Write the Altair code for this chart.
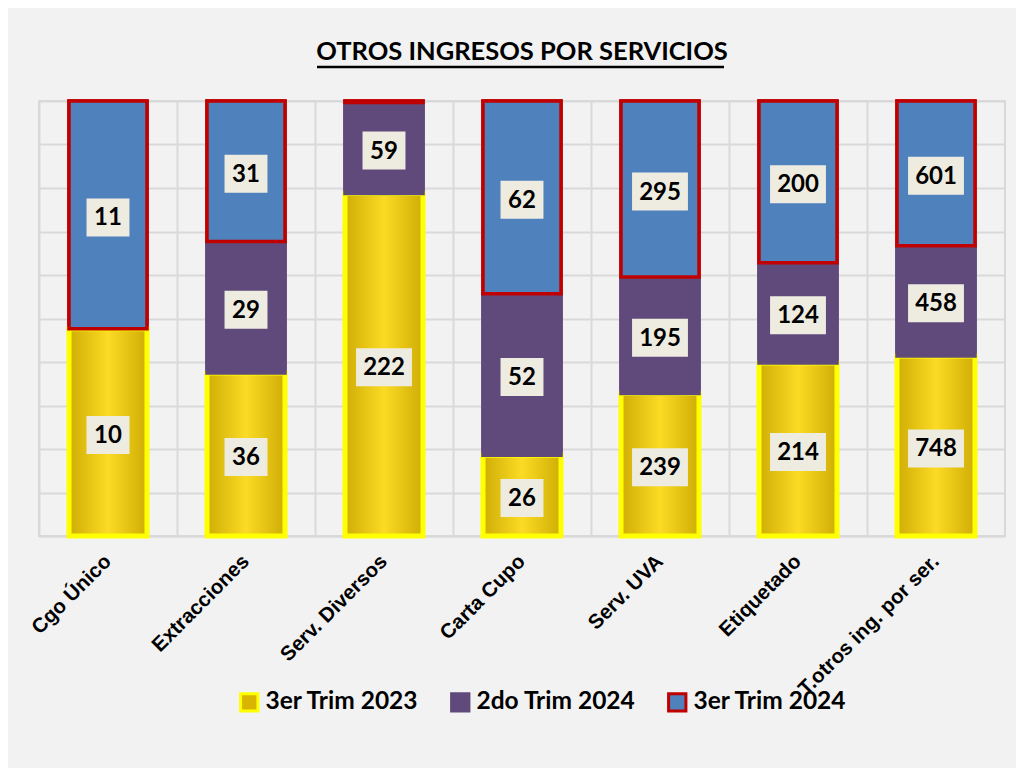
import altair as alt
import pandas as pd

categories = ["Cgo  Único", "Extracciones", "Serv. Diversos", "Carta Cupo",
              "Serv. UVA", "Etiquetado", "T.otros ing. por ser."]
series = ["3er Trim 2023", "2do Trim 2024", "3er Trim 2024"]
trim3_2023 = [10, 36, 222, 26, 239, 214, 748]
trim2_2024 = [0, 29, 59, 52, 195, 124, 458]
trim3_2024 = [11, 31, 1, 62, 295, 200, 601]

rows = []
for i, c in enumerate(categories):
    for j, (s, vals) in enumerate(zip(series, [trim3_2023, trim2_2024, trim3_2024])):
        rows.append({"cat": c, "series": s, "ord": j, "value": vals[i]})
df = pd.DataFrame(rows)

fills = ["#d9b500", "#604a7b", "#4f81bd"]
strokes = ["#ffff00", "#604a7b", "#c00000"]

base = alt.Chart(df).transform_filter("datum.value > 0").transform_stack(
    stack="value", groupby=["cat"], as_=["y0", "y1"], offset="normalize",
    sort=[alt.SortField("ord", order="ascending")]
).transform_calculate(
    mid="(datum.y0 + datum.y1) / 2",
    nd="'' + length('' + datum.value)"
)

xscale = alt.Scale(paddingInner=0, paddingOuter=0)
xaxis = alt.Axis(grid=True, bandPosition=0, gridColor="#d9d9d9", gridWidth=2,
                 ticks=False, domainColor="#d9d9d9", domainWidth=2,
                 labelAngle=-45, labelAlign="right", labelBaseline="middle",
                 labelFont="Liberation Sans", labelFontWeight="bold",
                 labelFontSize=20.5, labelColor="black", labelPadding=22,
                 labelLimit=400, title=None)
X = alt.X("cat:N", sort=categories, title=None, scale=xscale, axis=xaxis)
yscale = alt.Scale(domain=[0, 1], nice=False)
yaxis = alt.Axis(values=[i / 10 for i in range(11)], labels=False, ticks=False,
                 domain=False, grid=True, gridColor="#d9d9d9", gridWidth=2, title=None)

fill_enc = alt.Fill("series:N", scale=alt.Scale(domain=series, range=fills), title=None)
stroke_enc = alt.Stroke("series:N", scale=alt.Scale(domain=series, range=strokes), title=None)

bars = base.mark_bar(size=78, strokeWidth=3.5).encode(
    x=X, y=alt.Y("y0:Q", scale=yscale, axis=yaxis, title=None), y2="y1:Q",
    fill=fill_enc, stroke=stroke_enc,
)

gold = base.transform_filter("datum.ord == 0").mark_bar(
    size=78, strokeWidth=5, stroke="#ffff00",
    fill=alt.Gradient(gradient="linear", x1=0, x2=1, y1=0, y2=0,
                      stops=[alt.GradientStop(color="#cfad05", offset=0),
                             alt.GradientStop(color="#fbdb24", offset=0.5),
                             alt.GradientStop(color="#cfad05", offset=1)])
).encode(x=X, y=alt.Y("y0:Q", scale=yscale, axis=yaxis, title=None), y2="y1:Q")

upper = base.transform_filter("datum.ord > 0").mark_bar(size=78, strokeWidth=3.5).encode(
    x=X, y=alt.Y("y0:Q", scale=yscale, axis=yaxis, title=None), y2="y1:Q",
    fill=fill_enc, stroke=stroke_enc,
)

p2 = "M-1.13,-1H1.13V1H-1.13Z"
p3 = "M-1.47,-1H1.47V1H-1.47Z"
boxes = base.transform_filter("datum.value >= 5").mark_point(
    filled=True, fill="#eeece1", opacity=1, strokeWidth=0, size=1444
).encode(
    x=X, y=alt.Y("mid:Q", scale=yscale, axis=yaxis, title=None),
    yOffset=alt.value(2.5),
    shape=alt.Shape("nd:N", scale=alt.Scale(domain=["2", "3"], range=[p2, p3]), legend=None),
)

texts = base.transform_filter("datum.value >= 5").mark_text(
    font="Lato", fontSize=24, fontWeight="bold", color="black", baseline="middle", dy=3.5
).encode(x=X, y=alt.Y("mid:Q", scale=yscale, axis=yaxis, title=None), text="value:Q")

underline = alt.Chart(pd.DataFrame({"u": [0]})).mark_rule(color="black", strokeWidth=2.5).encode(
    x=alt.value(278), x2=alt.value(685), y=alt.value(-34)
)

chart = alt.layer(bars, gold, upper, boxes, texts, underline).properties(
    width=966, height=435,
    title=alt.TitleParams("OTROS INGRESOS POR SERVICIOS", font="Lato", fontSize=25.5,
                          fontWeight="bold", color="black", anchor="middle", offset=30, dy=30),
    autosize=alt.AutoSizeParams(type="none"),
    padding={"left": 31, "top": 93, "right": 11, "bottom": 232},
    background="#f2f2f2",
).configure_view(stroke="#d9d9d9", strokeWidth=2).configure_legend(
    orient="none", legendX=198, legendY=589, direction="horizontal",
    symbolType="square", symbolSize=300, symbolStrokeWidth=3,
    labelFont="Lato", labelFontSize=24.5, labelFontWeight="bold", labelColor="black",
    columnPadding=26, labelLimit=300, labelOffset=4,
)

chart.save("out.html", embed_options={"renderer": "svg", "actions": False})
